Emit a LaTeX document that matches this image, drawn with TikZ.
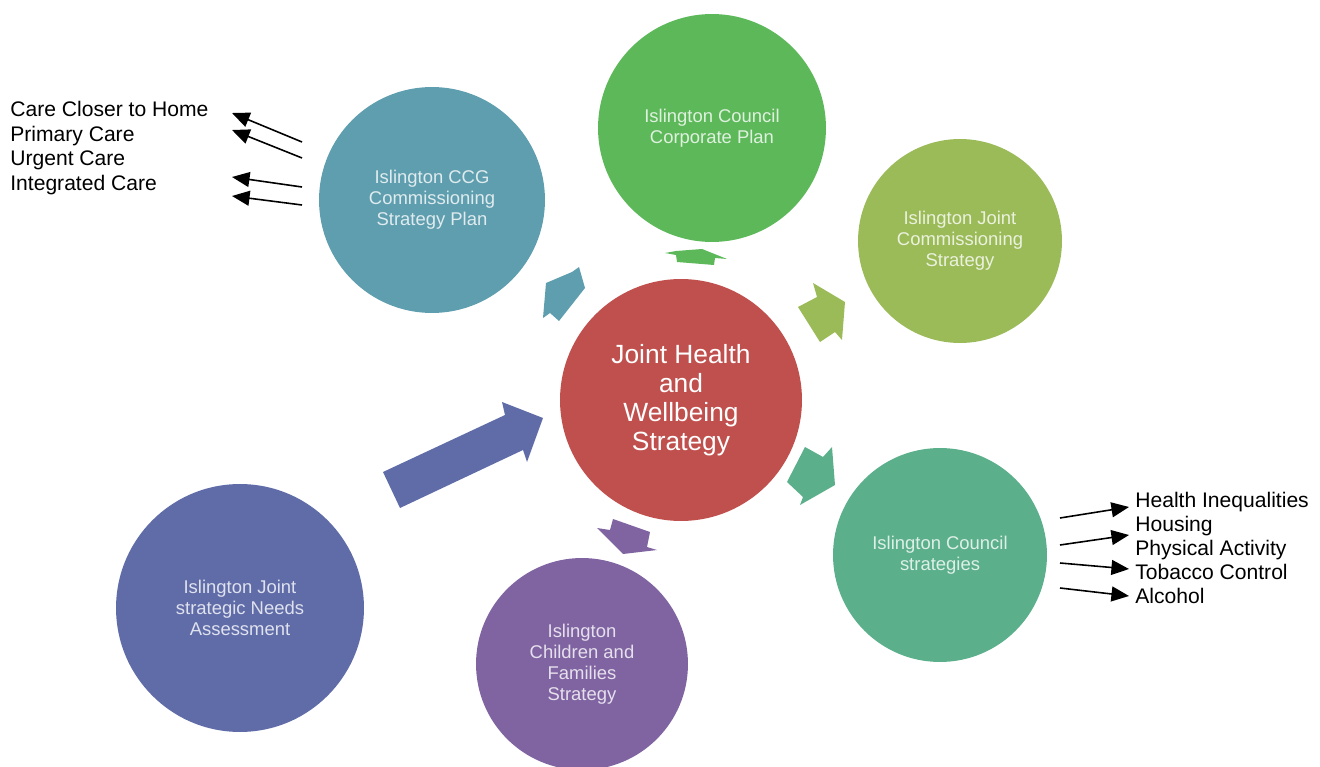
\documentclass[tikz,border=0pt]{standalone}
\usepackage{fontspec}
\setmainfont{Liberation Sans}
\usetikzlibrary{arrows.meta}

\definecolor{hwbred}{HTML}{C0504D}
\definecolor{ccgteal}{HTML}{5F9EAE}
\definecolor{corpgreen}{HTML}{5DB85A}
\definecolor{jcsolive}{HTML}{9BBB59}
\definecolor{cstrsea}{HTML}{5BB08B}
\definecolor{cfspurple}{HTML}{8064A2}
\definecolor{jsnablue}{HTML}{5F6CA8}

\tikzset{
	bubble/.style={circle,inner sep=0pt,align=center,text=white,text opacity=.8,font=\fontsize{10.5}{12}\selectfont},
	pointer/.style={-{Triangle[length=10pt,width=8.5pt]},line width=.9pt},
	item/.style={anchor=base west,inner sep=0pt,font=\fontsize{12}{14}\selectfont}
}

\begin{document}
\begin{tikzpicture}[x=0.02cm,y=-0.02cm]
	\useasboundingbox (0,0) rectangle (1320,767);

	% the strategy and the plans around it
	\node[bubble,fill=hwbred,minimum size=4.84cm,text opacity=1,font=\fontsize{15}{16.5}\selectfont] (hwb) at (681,400) {Joint Health\\and\\Wellbeing\\Strategy};
	\node[bubble,fill=ccgteal,minimum size=4.52cm] (ccg) at (432,200) {Islington CCG\\Commissioning\\Strategy Plan};
	\node[bubble,fill=corpgreen,minimum size=4.56cm] (corp) at (712,128) {Islington Council\\Corporate Plan};
	\node[bubble,fill=jcsolive,minimum size=4.08cm] (jcs) at (960,241) {Islington Joint\\Commissioning\\Strategy};
	\node[bubble,fill=cstrsea,minimum size=4.28cm] (cstr) at (940,555) {Islington Council\\strategies};
	\node[bubble,fill=cfspurple,minimum size=4.24cm] (cfs) at (582,664) {Islington\\Children and\\Families\\Strategy};
	\node[bubble,fill=jsnablue,minimum size=4.96cm] (jsna) at (240,608) {Islington Joint\\strategic Needs\\Assessment};

	% block arrows
	\fill[jsnablue] (383,472) -- (505,415) -- (502,402) -- (543,418) -- (527,462) -- (523,450) -- (400,508) -- cycle;
	\fill[ccgteal] (546,283) -- (572,272) -- (579,267) -- (585,288) -- (559,321) -- (550,313) -- (543,318) -- cycle;
	\fill[corpgreen] (665,253) -- (676,251) -- (702,249) -- (727,259) -- (715,258) -- (714,265) -- (677,262) -- (676,255) -- cycle;
	\fill[jcsolive] (813,283) -- (845,302) -- (842,340) -- (835,332) -- (820,342) -- (798,307) -- (817,297) -- cycle;
	\fill[cstrsea] (805,447) -- (823,457) -- (832,447) -- (835,485) -- (800,505) -- (803,497) -- (787,482) -- cycle;
	\fill[cfspurple] (613,519) -- (650,532) -- (647,547) -- (657,550) -- (623,554) -- (597,528) -- (610,530) -- cycle;

	% CCG priorities
	\node[item] (home) at (10,117) {Care Closer to Home};
	\node[item] (primary) at (10,142) {Primary Care};
	\node[item] (urgent) at (10,166) {Urgent Care};
	\node[item] (integrated) at (10,191) {Integrated Care};
	\foreach \i/\sy/\ty in {1/142/113, 2/158/130, 3/187/177, 4/205/196} {
		\coordinate (ls\i) at (302,\sy);
		\coordinate (lt\i) at (232,\ty);
		\draw[pointer] (ls\i) -- (lt\i);
	}

	% council strategies
	\node[item] (inequal) at (1135,507) {Health Inequalities};
	\node[item] (housing) at (1135,531) {Housing};
	\node[item] (activity) at (1135,555) {Physical Activity};
	\node[item] (tobacco) at (1135,579) {Tobacco Control};
	\node[item] (alcohol) at (1135,603) {Alcohol};
	\foreach \i/\sy/\ty in {1/518/507, 2/545/535, 3/563/569, 4/588/596} {
		\coordinate (rs\i) at (1060,\sy);
		\coordinate (rt\i) at (1129,\ty);
		\draw[pointer] (rs\i) -- (rt\i);
	}
\end{tikzpicture}
\end{document}
